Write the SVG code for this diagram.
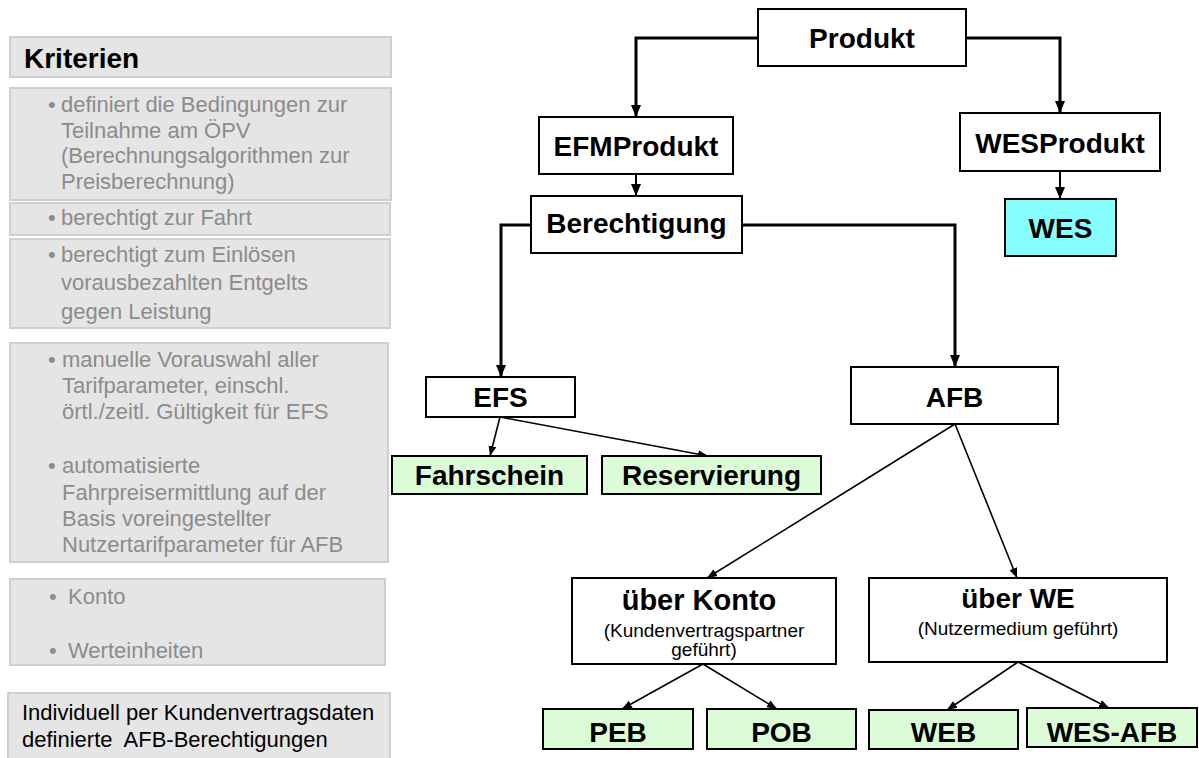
<svg xmlns="http://www.w3.org/2000/svg" width="1199" height="758" viewBox="0 0 1199 758">
<style>
.panel{fill:#e5e5e5;stroke:#cfcfcf;stroke-width:2}
.pt{font-family:"Liberation Sans",Arial,sans-serif;font-size:22px;fill:#8c8c8c}
.pk{font-family:"Liberation Sans",Arial,sans-serif;font-size:22px;fill:#000}
.node{fill:#fff;stroke:#000;stroke-width:2}
.leaf{fill:#dcfcd8;stroke:#000;stroke-width:2}
.cyan{fill:#88ffff;stroke:#000;stroke-width:2}
.nt{font-family:"Liberation Sans",Arial,sans-serif;font-size:28px;font-weight:bold;fill:#000;text-anchor:middle}
.st{font-family:"Liberation Sans",Arial,sans-serif;font-size:19px;fill:#000;text-anchor:middle}
.thick{fill:none;stroke:#000;stroke-width:3;marker-end:url(#ah)}
.mid{fill:none;stroke:#000;stroke-width:2;marker-end:url(#ah)}
.thin{fill:none;stroke:#000;stroke-width:1.6;marker-end:url(#as)}
</style>
<defs>
<marker id="ah" markerUnits="userSpaceOnUse" markerWidth="12" markerHeight="12" viewBox="0 0 12 10" refX="12" refY="5" orient="auto">
<path d="M0,0 L12,5 L0,10 z" fill="#000"/>
</marker>
<marker id="as" markerUnits="userSpaceOnUse" markerWidth="10" markerHeight="10" viewBox="0 0 10 8" refX="10" refY="4" orient="auto">
<path d="M0,0 L10,4 L0,8 z" fill="#000"/>
</marker>
</defs>
<rect width="1199" height="758" fill="#fff"/>

<g id="panel-kriterien">
<rect class="panel" x="10" y="37" width="381" height="40"/>
<text x="24" y="68" style="font-family:'Liberation Sans',Arial,sans-serif;font-size:28px;font-weight:bold;fill:#000">Kriterien</text>
</g>
<g id="panel-definiert">
<rect class="panel" x="10" y="88" width="381" height="112"/>
<text class="pt" x="48" y="112">•</text>
<text class="pt" x="61" y="112">definiert die Bedingungen zur</text>
<text class="pt" x="61" y="138">Teilnahme am ÖPV</text>
<text class="pt" x="61" y="163">(Berechnungsalgorithmen zur</text>
<text class="pt" x="61" y="189">Preisberechnung)</text>
</g>
<g id="panel-fahrt">
<rect class="panel" x="10" y="203" width="380" height="32"/>
<text class="pt" x="48" y="225">•</text>
<text class="pt" x="61" y="225">berechtigt zur Fahrt</text>
</g>
<g id="panel-einloesen">
<rect class="panel" x="10" y="239" width="380" height="89"/>
<text class="pt" x="48" y="262">•</text>
<text class="pt" x="61" y="262">berechtigt zum Einlösen</text>
<text class="pt" x="61" y="290">vorausbezahlten Entgelts</text>
<text class="pt" x="61" y="319">gegen Leistung</text>
</g>
<g id="panel-auswahl">
<rect class="panel" x="10" y="343" width="378" height="219"/>
<text class="pt" x="48" y="367">•</text>
<text class="pt" x="62" y="367">manuelle Vorauswahl aller</text>
<text class="pt" x="62" y="393">Tarifparameter, einschl.</text>
<text class="pt" x="62" y="419">örtl./zeitl. Gültigkeit für EFS</text>
<text class="pt" x="48" y="473">•</text>
<text class="pt" x="62" y="473">automatisierte</text>
<text class="pt" x="62" y="500">Fahrpreisermittlung auf der</text>
<text class="pt" x="62" y="526">Basis voreingestellter</text>
<text class="pt" x="62" y="552">Nutzertarifparameter für AFB</text>
</g>
<g id="panel-konto">
<rect class="panel" x="10" y="579" width="375" height="86"/>
<text class="pt" x="49" y="604">•</text>
<text class="pt" x="68" y="604">Konto</text>
<text class="pt" x="49" y="658">•</text>
<text class="pt" x="68" y="658">Werteinheiten</text>
</g>
<g id="panel-individuell">
<rect class="panel" x="8" y="693" width="382" height="72"/>
<text class="pk" x="22" y="720">Individuell per Kundenvertragsdaten</text>
<text class="pk" x="22" y="747" xml:space="preserve">definierte  AFB-Berechtigungen</text>
</g>

<g id="connectors">
<path class="thick" d="M758,38 H636 V117"/>
<path class="thick" d="M966,38 H1060 V113"/>
<path class="mid" d="M636,174 V196"/>
<path class="mid" d="M1060,171 V199"/>
<path class="thick" d="M531,225 H501 V377"/>
<path class="thick" d="M742,225 H955 V367"/>
<path class="thin" d="M500,417 L490,456"/>
<path class="thin" d="M500,417 L708,456"/>
<path class="thin" d="M955,424 L707,578"/>
<path class="thin" d="M955,424 L1017,578"/>
<path class="thin" d="M703,664 L622,709"/>
<path class="thin" d="M703,664 L777,709"/>
<path class="thin" d="M1018,662 L947,710"/>
<path class="thin" d="M1018,662 L1109,708"/>
</g>

<g id="node-produkt">
<rect class="node" x="758" y="9" width="208" height="57"/>
<text class="nt" x="862" y="48">Produkt</text>
</g>
<g id="node-efmprodukt">
<rect class="node" x="539" y="117" width="194" height="57"/>
<text class="nt" x="636" y="156">EFMProdukt</text>
</g>
<g id="node-wesprodukt">
<rect class="node" x="960" y="113" width="200" height="58"/>
<text class="nt" x="1060" y="153">WESProdukt</text>
</g>
<g id="node-wes">
<rect class="cyan" x="1005" y="199" width="111" height="57"/>
<text class="nt" x="1060.5" y="238">WES</text>
</g>
<g id="node-berechtigung">
<rect class="node" x="531" y="196" width="211" height="57"/>
<text class="nt" x="636.5" y="233">Berechtigung</text>
</g>
<g id="node-efs">
<rect class="node" x="426" y="377" width="149" height="40"/>
<text class="nt" x="500.5" y="407">EFS</text>
</g>
<g id="node-afb">
<rect class="node" x="851" y="367" width="207" height="57"/>
<text class="nt" x="954.5" y="407">AFB</text>
</g>
<g id="node-fahrschein">
<rect class="leaf" x="392" y="456" width="195" height="38"/>
<text class="nt" x="489.5" y="485">Fahrschein</text>
</g>
<g id="node-reservierung">
<rect class="leaf" x="602" y="456" width="219" height="38"/>
<text class="nt" x="711.5" y="485">Reservierung</text>
</g>
<g id="node-ueber-konto">
<rect class="node" x="572" y="578" width="264" height="86"/>
<text class="nt" x="699" y="610" style="font-size:29px">über Konto</text>
<text class="st" x="704" y="637">(Kundenvertragspartner</text>
<text class="st" x="704" y="656">geführt)</text>
</g>
<g id="node-ueber-we">
<rect class="node" x="869" y="578" width="298" height="84"/>
<text class="nt" x="1018" y="608">über WE</text>
<text class="st" x="1018" y="635">(Nutzermedium geführt)</text>
</g>
<g id="node-peb">
<rect class="leaf" x="543" y="709" width="150" height="40"/>
<text class="nt" x="618" y="742">PEB</text>
</g>
<g id="node-pob">
<rect class="leaf" x="707" y="709" width="149" height="40"/>
<text class="nt" x="781.5" y="742">POB</text>
</g>
<g id="node-web">
<rect class="leaf" x="869" y="710" width="149" height="39"/>
<text class="nt" x="943.5" y="742">WEB</text>
</g>
<g id="node-wes-afb">
<rect class="leaf" x="1027" y="708" width="170" height="39"/>
<text class="nt" x="1112" y="742">WES-AFB</text>
</g>
</svg>
